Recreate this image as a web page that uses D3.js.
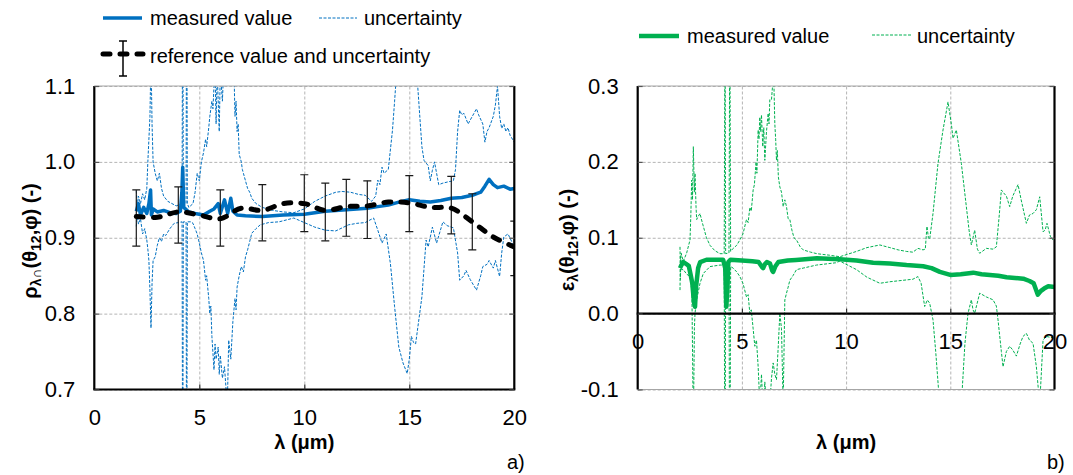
<!DOCTYPE html>
<html>
<head>
<meta charset="utf-8">
<script src="https://cdn.jsdelivr.net/npm/d3@7"></script>
<style>
  body { margin: 0; background: #fff; }
  svg { display: block; font-family: "Liberation Sans", Arial, sans-serif; }
</style>
</head>
<body>
<svg id="chart" width="1073" height="475"></svg>
<script>
// ---- data (wavelength in µm, value) ----
const xTicks = [0, 5, 10, 15, 20];
const xGrid = [5, 10, 15];
const rhoTicks = [0.7, 0.8, 0.9, 1.0, 1.1];
const epsTicks = [-0.1, 0.0, 0.1, 0.2, 0.3];

const rhoMeasured = [
  [2.0,0.935],[2.1,0.945],[2.2,0.930],[2.35,0.940],[2.5,0.932],[2.6,0.945],[2.68,0.963],[2.72,0.930],
  [2.8,0.938],[3.0,0.934],[3.3,0.936],[3.6,0.933],[3.9,0.932],[4.1,0.935],[4.17,0.960],[4.21,0.993],
  [4.26,0.940],[4.5,0.934],[4.8,0.932],[5.2,0.930],[5.5,0.935],[5.7,0.938],[5.9,0.945],[6.0,0.932],
  [6.2,0.950],[6.35,0.932],[6.5,0.952],[6.6,0.935],[6.8,0.930],[7.2,0.929],[8,0.928],[9,0.930],
  [10,0.931],[10.5,0.933],[11,0.935],[12,0.937],[12.5,0.938],[13,0.939],[13.5,0.941],[14,0.943],
  [14.5,0.947],[15,0.950],[15.5,0.948],[16,0.947],[16.5,0.949],[17,0.952],[17.5,0.953],[18,0.956],
  [18.4,0.960],[18.6,0.968],[18.8,0.977],[19.0,0.970],[19.2,0.966],[19.5,0.968],[19.8,0.964],[20,0.965]
];
const rhoUpper = [
  [2.0,0.962],[2.05,0.940],[2.1,0.955],[2.2,0.945],[2.3,0.958],[2.4,0.950],[2.5,0.965],[2.55,1.00],
  [2.6,1.03],[2.65,1.06],[2.7,1.14],[2.75,1.05],[2.8,1.00],[2.9,0.985],[3.0,0.975],[3.1,0.985],
  [3.2,0.965],[3.3,0.955],[3.5,0.948],[3.7,0.945],[3.9,0.942],[4.18,0.945],[4.21,1.3],[4.24,0.945],
  [4.37,0.945],[4.40,1.3],[4.43,0.945],[4.5,0.940],[4.7,0.945],[4.8,0.960],[4.9,0.985],[5.0,0.975],
  [5.1,1.00],[5.2,1.012],[5.3,1.03],[5.35,1.02],[5.45,1.045],[5.5,1.06],[5.6,1.08],[5.65,1.07],
  [5.7,1.10],[5.75,1.12],[5.8,1.05],[5.85,1.12],[5.95,1.04],[6.0,1.12],[6.1,1.08],[6.2,1.15],
  [6.3,1.12],[6.45,1.15],[6.55,1.10],[6.65,1.12],[6.7,1.06],[6.75,1.08],[6.8,1.04],[6.85,1.05],
  [6.9,1.01],[7.0,1.00],[7.05,0.99],[7.1,0.985],[7.2,0.975],[7.3,0.965],[7.4,0.960],[7.5,0.952],
  [7.7,0.945],[8,0.940],[8.5,0.936],[9,0.934],[9.5,0.933],[10,0.938],[10.5,0.948],[11,0.955],
  [11.5,0.960],[11.8,0.961],[12.2,0.960],[12.6,0.957],[12.9,0.956],[13.2,0.948],[13.4,0.955],[13.5,0.976],
  [13.6,0.970],[13.7,0.993],[13.8,0.985],[14.0,0.990],[14.2,1.042],[14.3,1.08],[14.4,1.12],[15.3,1.12],
  [15.4,1.10],[15.6,1.02],[15.7,1.002],[15.9,0.995],[16.0,0.975],[16.1,0.989],[16.2,1.000],[16.3,0.985],
  [16.4,0.970],[16.6,0.972],[16.9,0.974],[17.1,0.975],[17.2,0.990],[17.3,1.04],[17.4,1.068],[17.5,1.062],
  [17.6,1.064],[17.8,1.050],[17.9,1.055],[18.1,1.065],[18.2,1.070],[18.3,1.062],[18.5,1.050],[18.6,1.026],
  [18.7,1.040],[18.8,1.045],[19.0,1.060],[19.1,1.075],[19.2,1.100],[19.3,1.060],[19.4,1.044],[19.5,1.050],
  [19.6,1.040],[19.7,1.045],[19.8,1.035],[20,1.026]
];
const rhoLower = [
  [2.0,0.915],[2.05,0.930],[2.1,0.918],[2.2,0.925],[2.3,0.905],[2.4,0.912],[2.5,0.897],[2.55,0.885],
  [2.6,0.870],[2.65,0.830],[2.7,0.781],[2.75,0.840],[2.8,0.870],[2.9,0.875],[3.0,0.890],[3.1,0.900],
  [3.2,0.895],[3.3,0.905],[3.4,0.903],[3.6,0.912],[3.8,0.919],[4.0,0.920],[4.18,0.921],[4.21,0.5],
  [4.24,0.921],[4.37,0.921],[4.40,0.5],[4.43,0.921],[4.6,0.921],[4.7,0.919],[4.8,0.912],[4.9,0.905],
  [5.0,0.893],[5.1,0.880],[5.2,0.870],[5.3,0.844],[5.35,0.850],[5.45,0.820],[5.5,0.800],[5.55,0.810],
  [5.6,0.770],[5.7,0.726],[5.75,0.760],[5.8,0.740],[5.9,0.756],[5.95,0.720],[6.0,0.745],[6.1,0.715],
  [6.2,0.730],[6.3,0.690],[6.35,0.700],[6.4,0.765],[6.5,0.740],[6.6,0.790],[6.7,0.820],[6.75,0.805],
  [6.8,0.835],[6.9,0.850],[7.0,0.862],[7.1,0.855],[7.2,0.875],[7.3,0.884],[7.4,0.895],[7.5,0.906],
  [7.7,0.912],[7.9,0.917],[8.3,0.920],[8.8,0.921],[9.5,0.926],[10,0.920],[10.5,0.914],[11,0.910],
  [11.5,0.909],[12.1,0.917],[12.5,0.919],[12.9,0.920],[13.3,0.926],[13.5,0.910],[13.7,0.893],[13.9,0.905],
  [14.1,0.866],[14.3,0.809],[14.5,0.756],[14.7,0.735],[14.9,0.721],[15.0,0.740],[15.1,0.770],[15.2,0.762],
  [15.3,0.760],[15.6,0.822],[15.8,0.897],[15.9,0.888],[16.1,0.914],[16.3,0.893],[16.6,0.921],[16.8,0.916],
  [17.1,0.913],[17.3,0.880],[17.4,0.844],[17.6,0.850],[17.7,0.857],[17.9,0.845],[18.2,0.831],[18.4,0.850],
  [18.5,0.862],[18.7,0.865],[18.8,0.870],[19.0,0.860],[19.1,0.870],[19.3,0.849],[19.4,0.880],[19.5,0.901],
  [19.7,0.905],[20,0.888]
];
const rhoReference = [
  [2,0.928],[3,0.927],[4,0.934],[5,0.930],[6,0.925],[7,0.939],[8,0.936],[9,0.945],[10,0.945],
  [11,0.936],[12,0.941],[13,0.942],[14,0.947],[15,0.946],[16,0.940],[17,0.939],[18,0.921],[19,0.901],[20,0.888]
];
const rhoBarsX = [2, 4, 6, 8, 10, 11, 12, 13, 15, 17, 18, 20];
const rhoBarsLow = [0.889, 0.893, 0.889, 0.896, 0.908, 0.896, 0.902, 0.899, 0.908, 0.905, 0.884, 0.850];
const rhoBarsHigh = [0.963, 0.967, 0.963, 0.970, 0.983, 0.972, 0.977, 0.975, 0.982, 0.981, 0.958, 0.922];

const epsMeasured = [
  [2.03,0.060],[2.1,0.064],[2.19,0.068],[2.3,0.066],[2.45,0.063],[2.55,0.050],[2.62,0.040],[2.7,0.015],
  [2.75,0.009],[2.8,0.035],[2.9,0.060],[3.0,0.068],[3.3,0.071],[3.7,0.071],[4.1,0.071],[4.2,0.060],
  [4.25,0.009],[4.3,0.030],[4.35,0.068],[4.45,0.071],[5.0,0.070],[5.5,0.069],[5.8,0.068],[5.95,0.062],
  [6.02,0.060],[6.1,0.065],[6.2,0.068],[6.35,0.066],[6.45,0.057],[6.5,0.055],[6.6,0.062],[6.75,0.068],
  [7.2,0.070],[7.6,0.0707],[8.6,0.073],[9.7,0.0717],[10.5,0.070],[11.3,0.067],[12.1,0.066],[12.9,0.064],
  [13.7,0.0625],[14.1,0.060],[14.5,0.055],[15.0,0.051],[15.5,0.052],[16.1,0.054],[16.5,0.052],[16.9,0.051],
  [17.3,0.050],[17.7,0.048],[18.1,0.047],[18.5,0.046],[18.8,0.043],[19.0,0.040],[19.2,0.025],[19.35,0.030],
  [19.5,0.033],[19.7,0.036],[20,0.035]
];
const epsUpper = [
  [2.03,0.088],[2.05,0.045],[2.08,0.080],[2.19,0.069],[2.35,0.080],[2.51,0.097],[2.55,0.130],[2.59,0.176],
  [2.63,0.150],[2.67,0.220],[2.72,0.160],[2.75,0.185],[2.8,0.140],[2.83,0.124],[2.9,0.128],[2.99,0.132],
  [3.05,0.125],[3.15,0.115],[3.3,0.100],[3.47,0.090],[3.7,0.083],[3.95,0.079],[4.15,0.079],[4.19,0.40],
  [4.22,0.079],[4.38,0.080],[4.42,0.40],[4.46,0.082],[4.58,0.086],[4.75,0.090],[4.9,0.097],[5.05,0.105],
  [5.22,0.124],[5.3,0.120],[5.38,0.140],[5.45,0.135],[5.54,0.163],[5.6,0.170],[5.68,0.200],[5.72,0.185],
  [5.78,0.242],[5.82,0.230],[5.86,0.259],[5.9,0.240],[5.94,0.262],[6.0,0.220],[6.05,0.245],[6.1,0.202],
  [6.18,0.240],[6.26,0.264],[6.3,0.250],[6.34,0.282],[6.42,0.282],[6.47,0.300],[6.53,0.310],[6.58,0.250],
  [6.62,0.230],[6.66,0.202],[6.7,0.215],[6.75,0.180],[6.82,0.167],[6.9,0.160],[6.98,0.141],[7.06,0.150],
  [7.14,0.141],[7.22,0.125],[7.3,0.124],[7.4,0.110],[7.5,0.100],[7.62,0.097],[7.8,0.088],[7.94,0.084],
  [8.3,0.081],[8.6,0.079],[9.2,0.077],[9.7,0.075],[10.5,0.082],[11.0,0.087],[11.62,0.0905],[12.1,0.087],
  [12.5,0.084],[12.89,0.082],[13.2,0.081],[13.45,0.086],[13.69,0.084],[13.8,0.085],[13.88,0.115],[13.95,0.100],
  [14.01,0.098],[14.17,0.132],[14.41,0.198],[14.65,0.242],[14.89,0.279],[15.05,0.250],[15.13,0.231],[15.29,0.242],
  [15.53,0.198],[15.77,0.141],[15.9,0.110],[16.01,0.0905],[16.09,0.100],[16.17,0.110],[16.3,0.085],[16.41,0.0795],
  [16.73,0.086],[17.05,0.085],[17.21,0.088],[17.35,0.130],[17.45,0.163],[17.53,0.160],[17.69,0.155],[17.85,0.141],
  [18.0,0.155],[18.25,0.170],[18.4,0.150],[18.65,0.119],[18.8,0.130],[18.97,0.132],[19.13,0.137],[19.29,0.154],
  [19.45,0.108],[19.55,0.110],[19.64,0.119],[19.8,0.102],[19.93,0.097]
];
const epsLower = [
  [2.03,0.031],[2.05,0.075],[2.1,0.058],[2.19,0.058],[2.35,0.052],[2.51,0.049],[2.6,0.030],[2.67,-0.150],
  [2.72,-0.020],[2.75,0.0005],[2.83,0.018],[2.99,0.040],[3.15,0.053],[3.47,0.062],[3.95,0.064],[4.15,0.064],
  [4.19,-0.3],[4.22,0.064],[4.38,0.062],[4.42,-0.3],[4.46,0.062],[4.58,0.060],[4.75,0.055],[4.9,0.049],
  [5.05,0.040],[5.22,0.022],[5.3,0.025],[5.38,0.0005],[5.45,0.005],[5.54,-0.020],[5.62,-0.043],[5.7,-0.035],
  [5.78,-0.070],[5.86,-0.12],[5.94,-0.08],[6.02,-0.13],[6.1,-0.09],[6.18,-0.12],[6.26,-0.10],[6.34,-0.12],
  [6.42,-0.085],[6.5,-0.065],[6.58,-0.08],[6.66,-0.087],[6.75,-0.040],[6.82,0.0005],[6.9,-0.020],[6.98,-0.12],
  [7.06,0.018],[7.14,0.027],[7.22,0.035],[7.3,0.044],[7.45,0.050],[7.62,0.058],[7.94,0.060],[8.58,0.064],
  [9.5,0.067],[9.7,0.0692],[10.5,0.058],[11.0,0.048],[11.62,0.040],[12.1,0.042],[12.89,0.0444],[13.2,0.0453],
  [13.45,0.0488],[13.6,0.040],[13.77,0.0094],[13.9,0.018],[14.01,0.0138],[14.17,-0.0082],[14.3,-0.05],[14.49,-0.12],
  [15.53,-0.12],[15.7,-0.04],[15.85,0.0005],[16.01,0.0182],[16.09,0.005],[16.17,0.0005],[16.41,0.027],[16.73,0.022],
  [17.05,0.0182],[17.21,0.010],[17.29,-0.0082],[17.45,-0.050],[17.53,-0.070],[17.69,-0.050],[17.85,-0.043],[18.0,-0.048],
  [18.17,-0.056],[18.35,-0.040],[18.49,-0.030],[18.65,-0.026],[18.8,-0.035],[18.97,-0.039],[19.13,-0.070],[19.29,-0.12],
  [19.45,-0.035],[19.6,-0.030],[19.93,-0.032]
];

const BLUE = "#0070c0";
const GREEN = "#00b050";

class SpectrumPanel {
  constructor({
    svg,
    id,
    bounds,
    yDomain,
    yTicks,
    xAxisAt,
    colour,
    measured,
    measuredWidth = 3.5,
    upper,
    lower,
    reference = null,
    bars = null,
    yTitle,
    yTitleX,
    yTitleY,
    tag,
    tagX,
  }) {
    Object.assign(this, {
      svg, id, bounds, yDomain, yTicks, xAxisAt, colour, measured, measuredWidth,
      upper, lower, reference, bars, yTitle, yTitleX, yTitleY, tag, tagX,
    });
    this.setup();
    this.render();
  }

  setup() {
    const b = this.bounds;
    this.x = d3.scaleLinear().domain([0, 20]).range([b.left, b.right]);
    this.y = d3.scaleLinear().domain(this.yDomain).range([b.bottom, b.top]);
    this.g = this.svg.append("g").attr("class", `panel panel--${this.id}`);
    this.line = d3
      .line()
      .x((d) => this.x(d[0]))
      .y((d) => this.y(d[1]));
  }

  render() {
    this.renderGrid();
    this.renderSeries();
    this.renderFrame();
    this.renderTickLabels();
    this.renderTitles();
  }

  renderGrid() {
    const b = this.bounds;
    this.g
      .append("g")
      .attr("class", "grid grid--y")
      .attr("transform", `translate(${b.left},0)`)
      .call(d3.axisLeft(this.y).tickValues(this.yTicks).tickSize(-(b.right - b.left)).tickFormat(""))
      .call((g) => g.select(".domain").remove())
      .call((g) =>
        g.selectAll(".tick line").attr("stroke", "#b4b4b4").attr("stroke-dasharray", "3,2")
      );
    this.g
      .append("g")
      .attr("class", "grid grid--x")
      .attr("transform", `translate(0,${b.bottom})`)
      .call(d3.axisBottom(this.x).tickValues(xGrid).tickSize(-(b.bottom - b.top)).tickFormat(""))
      .call((g) => g.select(".domain").remove())
      .call((g) =>
        g.selectAll(".tick line").attr("stroke", "#b4b4b4").attr("stroke-dasharray", "3,2")
      );
  }

  renderSeries() {
    const b = this.bounds;
    const clipId = `clip-${this.id}`;
    this.g
      .append("clipPath")
      .attr("id", clipId)
      .append("rect")
      .attr("x", b.left)
      .attr("y", b.top)
      .attr("width", b.right - b.left)
      .attr("height", b.bottom - b.top);
    const plot = this.g.append("g").attr("clip-path", `url(#${clipId})`);

    plot
      .selectAll(".uncertainty")
      .data([this.upper, this.lower])
      .join("path")
      .attr("class", "uncertainty")
      .attr("fill", "none")
      .attr("stroke", this.colour)
      .attr("stroke-width", 1)
      .attr("stroke-dasharray", "3,1.5")
      .attr("d", this.line);

    plot
      .append("path")
      .attr("class", "measured")
      .attr("fill", "none")
      .attr("stroke", this.colour)
      .attr("stroke-width", this.measuredWidth)
      .attr("stroke-linejoin", "round")
      .attr("d", this.line(this.measured));

    if (this.bars) {
      const bar = plot
        .selectAll(".err-bar")
        .data(this.bars)
        .join("g")
        .attr("class", "err-bar")
        .attr("stroke", "#1a1a1a")
        .attr("stroke-width", 1.2);
      bar
        .append("line")
        .attr("x1", (d) => this.x(d.x))
        .attr("x2", (d) => this.x(d.x))
        .attr("y1", (d) => this.y(d.lo))
        .attr("y2", (d) => this.y(d.hi));
      bar
        .selectAll(".cap")
        .data((d) => [
          [d.x, d.lo],
          [d.x, d.hi],
        ])
        .join("line")
        .attr("class", "cap")
        .attr("x1", (d) => this.x(d[0]) - 4)
        .attr("x2", (d) => this.x(d[0]) + 4)
        .attr("y1", (d) => this.y(d[1]))
        .attr("y2", (d) => this.y(d[1]));
    }

    if (this.reference) {
      plot
        .append("path")
        .attr("class", "reference")
        .attr("fill", "none")
        .attr("stroke", "#000")
        .attr("stroke-width", 5)
        .attr("stroke-linecap", "round")
        .attr("stroke-dasharray", "7,10")
        .attr("d", this.line.curve(d3.curveCatmullRom.alpha(0.5))(this.reference));
      this.line.curve(d3.curveLinear);
    }
  }

  renderFrame() {
    const b = this.bounds;
    const [y0, y1] = this.yDomain;
    const frame = this.g.append("g").attr("class", "frame");
    // light top / bottom edges
    frame
      .selectAll(".edge")
      .data([y0, y1].filter((v) => v !== this.xAxisAt))
      .join("line")
      .attr("class", "edge")
      .attr("x1", this.x(0))
      .attr("x2", this.x(20))
      .attr("y1", (d) => this.y(d))
      .attr("y2", (d) => this.y(d))
      .attr("stroke", "#a6a6a6")
      .attr("stroke-width", 1);
    frame
      .selectAll(".side")
      .data([0, 20])
      .join("line")
      .attr("class", "side")
      .attr("x1", (d) => this.x(d))
      .attr("x2", (d) => this.x(d))
      .attr("y1", this.y(y0))
      .attr("y2", this.y(y1))
      .attr("stroke", "#000")
      .attr("stroke-width", 2.2);
    frame
      .append("line")
      .attr("class", "x-axis-line")
      .attr("x1", this.x(0) - 1)
      .attr("x2", this.x(20) + 1)
      .attr("y1", this.y(this.xAxisAt))
      .attr("y2", this.y(this.xAxisAt))
      .attr("stroke", "#000")
      .attr("stroke-width", 2.2);

    // short inside tick marks
    frame
      .append("g")
      .attr("transform", `translate(0,${this.y(this.xAxisAt)})`)
      .call(d3.axisBottom(this.x).tickValues(xGrid).tickSize(-5).tickFormat(""))
      .call((g) => g.select(".domain").remove())
      .call((g) => g.selectAll(".tick line").attr("stroke", "#333").attr("stroke-width", 1.2));
    frame
      .append("g")
      .attr("transform", `translate(${b.left},0)`)
      .call(d3.axisLeft(this.y).tickValues(this.yTicks).tickSize(-5).tickFormat(""))
      .call((g) => g.select(".domain").remove())
      .call((g) => g.selectAll(".tick line").attr("stroke", "#555").attr("stroke-width", 1.2));
    frame
      .append("g")
      .attr("transform", `translate(${b.right},0)`)
      .call(d3.axisRight(this.y).tickValues(this.yTicks).tickSize(-5).tickFormat(""))
      .call((g) => g.select(".domain").remove())
      .call((g) => g.selectAll(".tick line").attr("stroke", "#555").attr("stroke-width", 1.2));
  }

  renderTickLabels() {
    const b = this.bounds;
    this.g
      .append("g")
      .attr("class", "axis axis--y")
      .attr("transform", `translate(${b.left},0)`)
      .call(
        d3.axisLeft(this.y).tickValues(this.yTicks).tickSize(0).tickPadding(19)
          .tickFormat((d) => d.toFixed(1))
      )
      .call((g) => g.select(".domain").remove())
      .call((g) =>
        g.selectAll(".tick text")
          .attr("fill", "#000")
          .attr("font-size", 22)
          .attr("font-family", "'Liberation Sans', Arial, sans-serif")
      );
    this.g
      .append("g")
      .attr("class", "axis axis--x")
      .attr("transform", `translate(0,${this.y(this.xAxisAt)})`)
      .call(d3.axisBottom(this.x).tickValues(xTicks).tickSize(0).tickPadding(20))
      .call((g) => g.select(".domain").remove())
      .call((g) =>
        g.selectAll(".tick text")
          .attr("fill", "#000")
          .attr("font-size", 22)
          .attr("font-family", "'Liberation Sans', Arial, sans-serif")
      );
  }

  renderTitles() {
    const b = this.bounds;
    this.g
      .append("text")
      .attr("class", "x-title")
      .attr("x", (b.left + b.right) / 2)
      .attr("y", 449)
      .attr("text-anchor", "middle")
      .attr("font-size", 20)
      .attr("font-weight", "bold")
      .text("λ (μm)");

    const yt = this.g
      .append("text")
      .attr("class", "y-title")
      .attr("transform", `translate(${this.yTitleX},${this.yTitleY}) rotate(-90)`)
      .attr("text-anchor", "middle")
      .attr("font-size", 20)
      .attr("font-weight", "bold");
    this.yTitle.forEach(([t, sub]) => {
      yt.append("tspan")
        .attr("baseline-shift", sub ? "-25%" : null)
        .attr("font-size", sub ? 14 : null)
        .text(t);
    });

    this.g
      .append("text")
      .attr("class", "tag")
      .attr("x", this.tagX)
      .attr("y", 469)
      .attr("font-size", 20)
      .text(this.tag);
  }
}

const svg = d3.select("#chart");

new SpectrumPanel({
  svg,
  id: "rho",
  bounds: { left: 94.3, right: 514.3, top: 86, bottom: 389.5 },
  yDomain: [0.7, 1.1],
  yTicks: rhoTicks,
  xAxisAt: 0.7,
  colour: BLUE,
  measured: rhoMeasured,
  measuredWidth: 3.5,
  upper: rhoUpper,
  lower: rhoLower,
  reference: rhoReference,
  bars: rhoBarsX.map((x, i) => ({ x, lo: rhoBarsLow[i], hi: rhoBarsHigh[i] })),
  yTitle: [["ρ", false], ["λ∩", true], ["(θ", false], ["12", true], [",φ) (-)", false]],
  yTitleX: 37,
  yTitleY: 241,
  tag: "a)",
  tagX: 507,
});

new SpectrumPanel({
  svg,
  id: "eps",
  bounds: { left: 637.7, right: 1054.5, top: 86, bottom: 389.5 },
  yDomain: [-0.1, 0.3],
  yTicks: epsTicks,
  xAxisAt: 0,
  colour: GREEN,
  measured: epsMeasured,
  measuredWidth: 4.5,
  upper: epsUpper,
  lower: epsLower,
  yTitle: [["ε", false], ["λ", true], ["(θ", false], ["12", true], [",φ) (-)", false]],
  yTitleX: 574,
  yTitleY: 240,
  tag: "b)",
  tagX: 1047,
});

// ---- legends ----
const legendFont = 20;
const legends = [
  { x1: 103, x2: 142, y: 18, kind: "solid", colour: BLUE, width: 3.5, label: "measured value", tx: 150, ty: 25 },
  { x1: 319, x2: 357, y: 18, kind: "dash", colour: BLUE, width: 1, label: "uncertainty", tx: 364, ty: 25 },
  { x1: 103, x2: 143, y: 54, kind: "ref", colour: "#000", width: 5, label: "reference value and uncertainty", tx: 150, ty: 63 },
  { x1: 639, x2: 679, y: 36, kind: "solid", colour: GREEN, width: 4.5, label: "measured value", tx: 687, ty: 43 },
  { x1: 872, x2: 911, y: 35, kind: "dash", colour: GREEN, width: 1, label: "uncertainty", tx: 917, ty: 43 },
];
const leg = svg.append("g").attr("class", "legend");
const item = leg.selectAll(".legend-item").data(legends).join("g").attr("class", "legend-item");
item
  .append("line")
  .attr("x1", (d) => d.x1)
  .attr("x2", (d) => d.x2)
  .attr("y1", (d) => d.y)
  .attr("y2", (d) => d.y)
  .attr("stroke", (d) => d.colour)
  .attr("stroke-width", (d) => d.width)
  .attr("stroke-linecap", (d) => (d.kind === "ref" ? "round" : "butt"))
  .attr("stroke-dasharray", (d) => (d.kind === "dash" ? "3,1.5" : d.kind === "ref" ? "7,10" : null));
item
  .filter((d) => d.kind === "ref")
  .each(function (d) {
    const g = d3.select(this).append("g").attr("stroke", "#000").attr("stroke-width", 1.5);
    const cx = (d.x1 + d.x2) / 2;
    g.append("line").attr("x1", cx).attr("x2", cx).attr("y1", d.y - 13).attr("y2", d.y + 22);
    g.append("line").attr("x1", cx - 4).attr("x2", cx + 4).attr("y1", d.y - 13).attr("y2", d.y - 13);
    g.append("line").attr("x1", cx - 4).attr("x2", cx + 4).attr("y1", d.y + 22).attr("y2", d.y + 22);
  });
item
  .append("text")
  .attr("x", (d) => d.tx)
  .attr("y", (d) => d.ty)
  .attr("font-size", legendFont)
  .attr("fill", "#000")
  .text((d) => d.label);
</script>
</body>
</html>
